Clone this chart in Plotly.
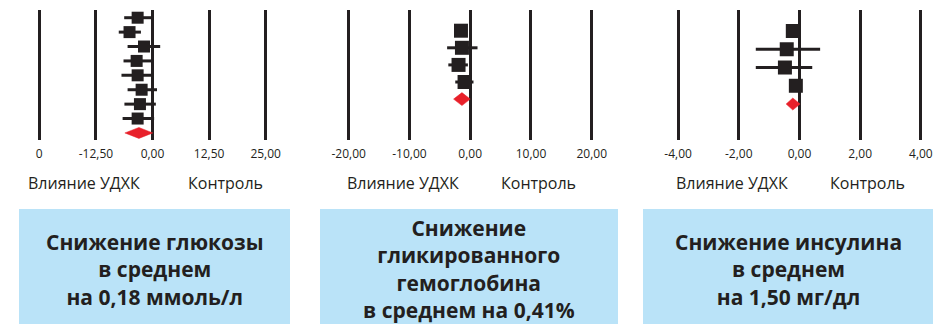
import plotly.graph_objects as go

# ---- data -------------------------------------------------------------
# Glucose: 8 studies + pooled estimate
glu_est = [-3.28, -5.07, -1.88, -3.50, -3.28, -2.40, -2.77, -3.28]
glu_lo = [-6.25, -7.45, -5.50, -6.40, -6.85, -5.50, -6.20, -6.60]
glu_hi = [0.00, -2.55, 1.70, 0.00, 0.20, 1.00, 0.74, 0.36]
glu_pool = [-6.10, -3.00, 0.07]          # lo, est, hi

# Glycated haemoglobin: 4 studies + pooled estimate
hba_est = [-1.52, -1.36, -1.92, -0.93]
hba_lo = [-2.60, -3.80, -3.60, -2.46]
hba_hi = [-0.50, 1.20, -0.38, 0.54]
hba_pool = [-2.74, -1.36, 0.00]

# Insulin: 4 studies + pooled estimate
ins_est = [-0.22, -0.42, -0.48, -0.12]
ins_lo = [-0.40, -1.44, -1.44, -0.30]
ins_hi = [-0.05, 0.68, 0.42, 0.05]
ins_pool = [-0.44, -0.22, 0.02]

glu_ticks = [-25, -12.5, 0, 12.5, 25]
glu_ticktext = ["0", "-12,50", "0,00", "12,50", "25,00"]
hba_ticks = [-20, -10, 0, 10, 20]
hba_ticktext = ["-20,00", "-10,00", "0,00", "10,00", "20,00"]
ins_ticks = [-4, -2, 0, 2, 4]
ins_ticktext = ["-4,00", "-2,00", "0,00", "2,00", "4,00"]

left_label = "Влияние УДХК"
right_label = "Контроль"
box_texts = [
    "Снижение глюкозы<br>в среднем<br>на 0,18 ммоль/л",
    "Снижение<br>гликированного<br>гемоглобина<br>в среднем на 0,41%",
    "Снижение инсулина<br>в среднем<br>на 1,50 мг/дл",
]

# ---- styling ----------------------------------------------------------
W, H = 933, 324
INK = "#231f20"
RED = "#e8202a"
BLUE = "#bae3f8"
FONT = "Open Sans"


def px_x(p):
    return p / W


def px_y(p):
    return 1 - p / H


panels = [
    # est, lo, hi, pooled, ticks, ticktext, x-domain px, x-range, y-range, marker size, diamond half-height
    dict(est=glu_est, lo=glu_lo, hi=glu_hi, pool=glu_pool, tv=glu_ticks, tt=glu_ticktext,
         dom=(25, 285), xr=(-28.16, 29.27), yr=(8.49, -0.535), ms=12, dh=0.38),
    dict(est=hba_est, lo=hba_lo, hi=hba_hi, pool=hba_pool, tv=hba_ticks, tt=hba_ticktext,
         dom=(330, 610), xr=(-23.07, 23.0), yr=(6.39, -1.21), ms=14, dh=0.38),
    dict(est=ins_est, lo=ins_lo, hi=ins_hi, pool=ins_pool, tv=ins_ticks, tt=ins_ticktext,
         dom=(660, 933), xr=(-4.596, 4.399), yr=(5.97, -1.15), ms=14, dh=0.33),
]

fig = go.Figure()
layout = dict(
    width=W, height=H, margin=dict(l=0, r=0, t=0, b=0),
    paper_bgcolor="white", plot_bgcolor="white", showlegend=False,
    font=dict(family=FONT, color=INK),
)

for i, p in enumerate(panels, start=1):
    sfx = "" if i == 1 else str(i)
    xref, yref = "x" + sfx, "y" + sfx
    rows = list(range(len(p["est"])))
    fig.add_trace(go.Scatter(
        x=p["est"], y=rows, mode="markers", xaxis=xref, yaxis=yref,
        marker=dict(symbol="square", size=p["ms"], color=INK, line=dict(width=0)),
        error_x=dict(type="data", symmetric=False,
                     array=[h - e for h, e in zip(p["hi"], p["est"])],
                     arrayminus=[e - l for e, l in zip(p["est"], p["lo"])],
                     thickness=3, width=0, color=INK),
        hoverinfo="skip",
    ))
    lo, est, hi = p["pool"]
    r = len(p["est"])
    dh = p["dh"]
    fig.add_trace(go.Scatter(
        x=[lo, est, hi, est, lo], y=[r, r - dh, r, r + dh, r],
        mode="lines", fill="toself", fillcolor=RED,
        line=dict(color=RED, width=0.5), xaxis=xref, yaxis=yref, hoverinfo="skip",
    ))
    layout["xaxis" + sfx] = dict(
        domain=[px_x(p["dom"][0]), px_x(p["dom"][1])], range=list(p["xr"]),
        anchor=yref, tickvals=p["tv"], ticktext=p["tt"], ticks="",
        showgrid=True, gridcolor=INK, gridwidth=2.7, zeroline=False,
        showline=False, tickfont=dict(size=12, color=INK, family=FONT),
        ticklabelstandoff=5, fixedrange=True,
    )
    layout["yaxis" + sfx] = dict(
        domain=[px_y(140), px_y(10)], range=list(p["yr"]), anchor=xref,
        visible=False, showgrid=False, zeroline=False, fixedrange=True,
    )

fig.update_layout(**layout)

# effect-direction labels under each axis
label_pos = [(84, 225), (403, 538), (732, 867)]
for lx, rx in label_pos:
    for x, t in ((lx, left_label), (rx, right_label)):
        fig.add_annotation(x=px_x(x), y=px_y(183), xref="paper", yref="paper",
                           text=t, showarrow=False, xanchor="center", yanchor="middle",
                           font=dict(size=16, color=INK, family=FONT))

# summary boxes
boxes = [(19, 290), (320, 618), (643, 933)]
for (x0, x1), txt in zip(boxes, box_texts):
    fig.add_shape(type="rect", xref="paper", yref="paper",
                  x0=px_x(x0), x1=px_x(x1), y0=0, y1=px_y(209),
                  fillcolor=BLUE, line=dict(width=0), layer="below")
    fig.add_annotation(x=px_x((x0 + x1) / 2), y=px_y(269), xref="paper", yref="paper",
                       text="<b>" + txt + "</b>", showarrow=False,
                       xanchor="center", yanchor="middle", align="center",
                       font=dict(size=21, color=INK, family=FONT))

fig.write_html("out.html")
